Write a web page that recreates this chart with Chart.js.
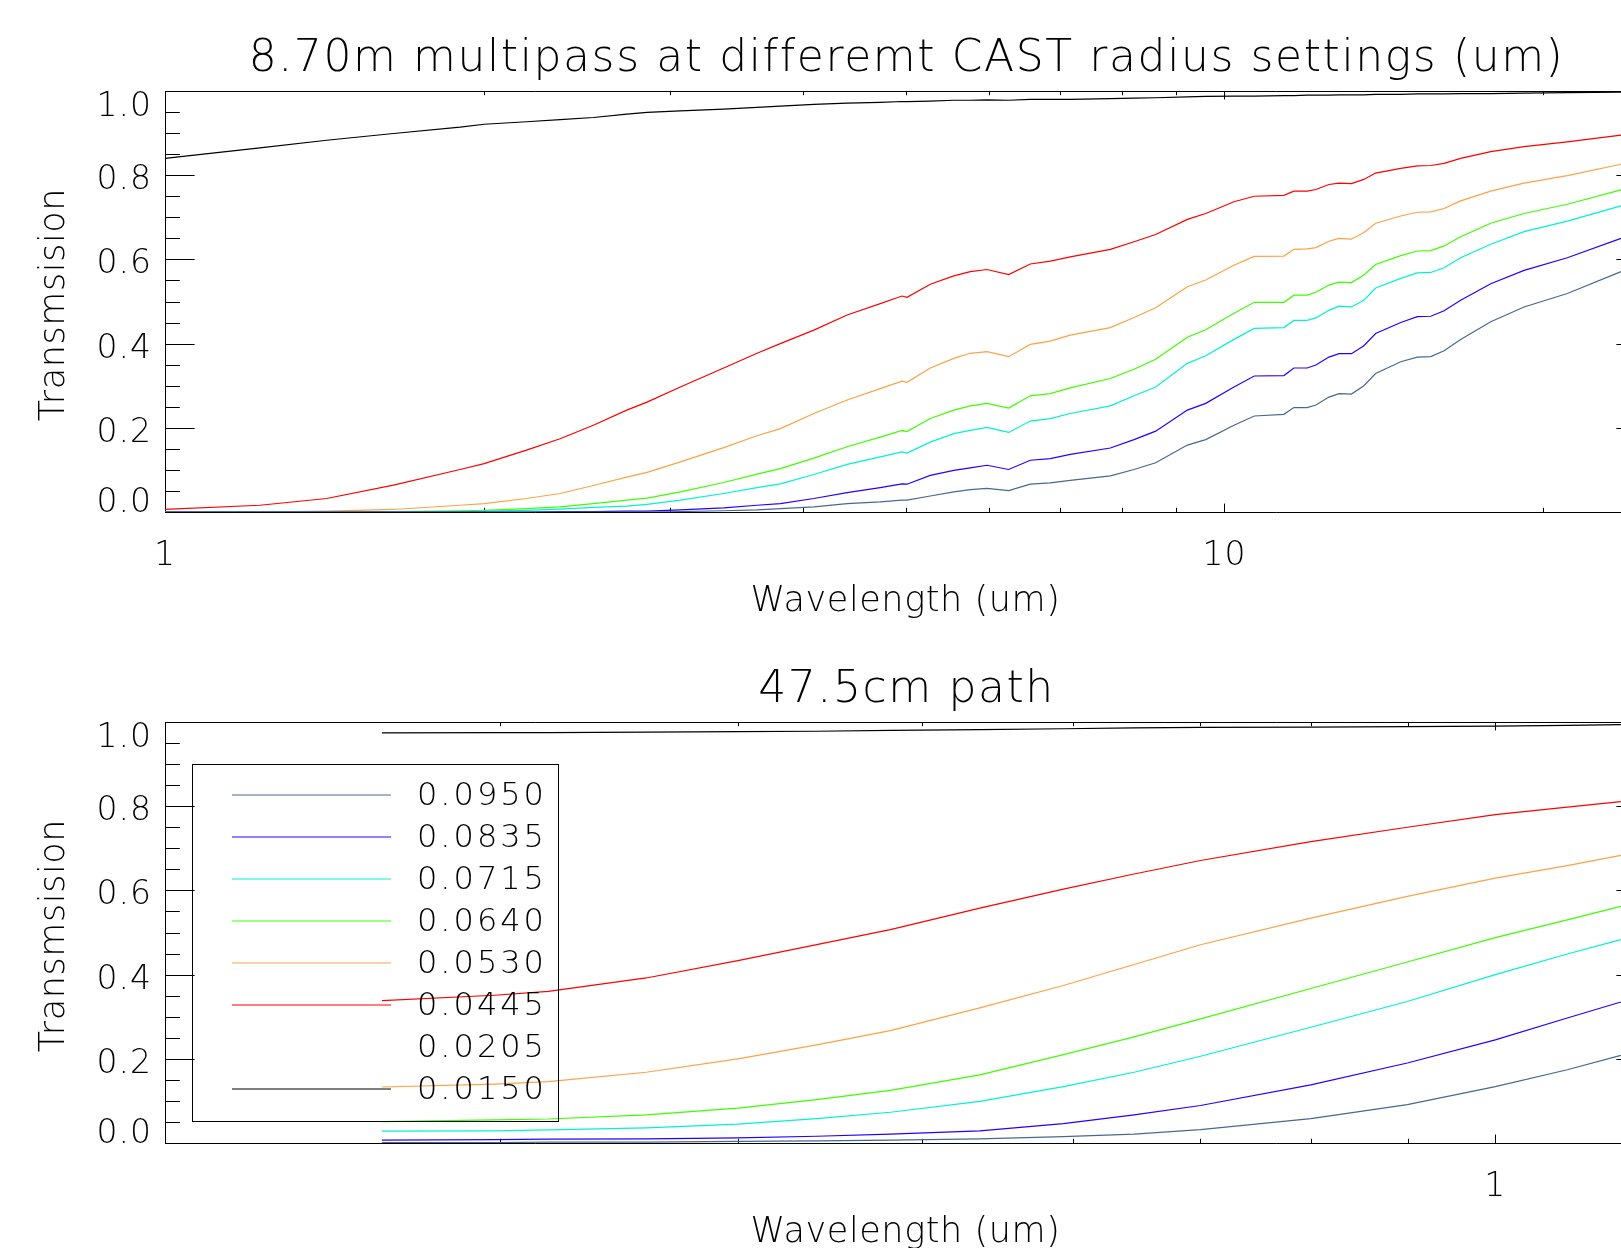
<!DOCTYPE html>
<html>
<head>
<meta charset="utf-8">
<title>Multipass transmission</title>
<script src="https://cdn.jsdelivr.net/npm/chart.js@4.4.0/dist/chart.umd.min.js"></script>
<style>
  html, body { margin: 0; padding: 0; background: #fff; overflow: hidden; }
  canvas { display: block; }
</style>
</head>
<body>
<canvas id="topChart" width="1700" height="620"></canvas>
<canvas id="bottomChart" width="1700" height="628"></canvas>
<script>
// CAST radius settings, in legend order, with their line colours
const radiusLabels = ['0.0950', '0.0835', '0.0715', '0.0640', '0.0530', '0.0445', '0.0205', '0.0150'];
const radiusColors = ['#47698f', '#2400ff', '#00f2d2', '#3cff00', '#ffa245', '#ff0000', '#ffffff', '#000000'];

// 8.70m multipass (top panel), wavelength in um
const topWavelength = [1.000, 1.229, 1.421, 1.643, 1.899, 2.001, 2.194, 2.360, 2.537, 2.728,
    2.851, 3.065, 3.368, 3.621, 3.809, 4.097, 4.404, 4.733, 4.962, 5.016,
    5.277, 5.553, 5.757, 5.969, 6.257, 6.558, 6.849, 7.153, 7.805, 8.216,
    8.612, 9.226, 9.602, 10.21, 10.67, 11.38, 11.63, 11.97, 12.20, 12.55,
    12.83, 13.18, 13.54, 13.89, 14.67, 15.21, 15.66, 16.12, 16.71, 17.84,
    19.18, 21.07, 23.68];
const top0950 = [0, 0, 0, 0, 0, 0, 0, 0, 0, 0,
    0, 0.001, 0.003, 0.005, 0.008, 0.012, 0.020, 0.024, 0.028, 0.028,
    0.038, 0.048, 0.053, 0.056, 0.051, 0.066, 0.069, 0.075, 0.086, 0.101,
    0.117, 0.159, 0.172, 0.206, 0.228, 0.232, 0.248, 0.248, 0.254, 0.273,
    0.281, 0.280, 0.300, 0.329, 0.357, 0.368, 0.369, 0.383, 0.410, 0.452,
    0.487, 0.519, 0.571];
const top0835 = [0, 0, 0, 0, 0, 0, 0, 0.001, 0.001, 0.002,
    0.002, 0.005, 0.010, 0.016, 0.020, 0.032, 0.046, 0.058, 0.067, 0.066,
    0.087, 0.099, 0.105, 0.111, 0.101, 0.123, 0.127, 0.137, 0.152, 0.172,
    0.192, 0.242, 0.258, 0.297, 0.323, 0.324, 0.342, 0.342, 0.349, 0.368,
    0.376, 0.376, 0.395, 0.424, 0.450, 0.464, 0.465, 0.478, 0.503, 0.542,
    0.574, 0.604, 0.650];
const top0715 = [0, 0, 0, 0, 0.001, 0.002, 0.004, 0.007, 0.011, 0.014,
    0.018, 0.028, 0.044, 0.058, 0.067, 0.089, 0.113, 0.131, 0.143, 0.140,
    0.166, 0.186, 0.194, 0.201, 0.189, 0.216, 0.222, 0.234, 0.252, 0.276,
    0.297, 0.353, 0.371, 0.410, 0.436, 0.438, 0.455, 0.455, 0.461, 0.479,
    0.489, 0.487, 0.503, 0.532, 0.555, 0.568, 0.569, 0.580, 0.604, 0.636,
    0.666, 0.691, 0.727];
const top0640 = [0, 0, 0, 0.001, 0.003, 0.004, 0.008, 0.012, 0.020, 0.028,
    0.033, 0.048, 0.070, 0.090, 0.103, 0.128, 0.155, 0.178, 0.194, 0.191,
    0.222, 0.242, 0.252, 0.258, 0.247, 0.276, 0.281, 0.295, 0.317, 0.339,
    0.363, 0.415, 0.433, 0.472, 0.498, 0.498, 0.515, 0.515, 0.522, 0.539,
    0.546, 0.545, 0.563, 0.588, 0.609, 0.620, 0.621, 0.632, 0.654, 0.686,
    0.709, 0.731, 0.765];
const top0530 = [0, 0, 0.002, 0.006, 0.016, 0.020, 0.032, 0.044, 0.063, 0.083,
    0.094, 0.119, 0.153, 0.181, 0.198, 0.234, 0.266, 0.293, 0.311, 0.308,
    0.342, 0.365, 0.377, 0.381, 0.369, 0.398, 0.406, 0.420, 0.438, 0.462,
    0.485, 0.535, 0.551, 0.586, 0.607, 0.608, 0.624, 0.625, 0.628, 0.643,
    0.650, 0.648, 0.664, 0.686, 0.703, 0.712, 0.713, 0.721, 0.739, 0.762,
    0.781, 0.799, 0.826];
const top0445 = [0.006, 0.016, 0.032, 0.064, 0.101, 0.115, 0.147, 0.174, 0.206, 0.242,
    0.261, 0.297, 0.342, 0.377, 0.400, 0.432, 0.468, 0.495, 0.513, 0.510,
    0.541, 0.561, 0.571, 0.576, 0.564, 0.589, 0.596, 0.606, 0.624, 0.642,
    0.659, 0.695, 0.709, 0.737, 0.750, 0.752, 0.762, 0.762, 0.766, 0.778,
    0.781, 0.780, 0.790, 0.805, 0.816, 0.822, 0.823, 0.828, 0.840, 0.856,
    0.868, 0.879, 0.895];
const top0205 = [];
const top0150 = [0.840, 0.865, 0.883, 0.899, 0.914, 0.921, 0.927, 0.932, 0.937, 0.945,
    0.949, 0.953, 0.957, 0.961, 0.964, 0.968, 0.971, 0.973, 0.975, 0.975,
    0.976, 0.978, 0.978, 0.979, 0.978, 0.980, 0.980, 0.980, 0.982, 0.983,
    0.984, 0.986, 0.987, 0.988, 0.988, 0.989, 0.989, 0.990, 0.990, 0.990,
    0.991, 0.991, 0.991, 0.992, 0.992, 0.993, 0.993, 0.993, 0.994, 0.994,
    0.995, 0.996, 0.997];

// 47.5cm path (bottom panel)
const bottomWavelength = [0.260, 0.298, 0.318, 0.358, 0.400, 0.440, 0.481, 0.536,
    0.593, 0.646, 0.700, 0.800, 0.899, 1.000, 1.091, 1.164];
const bottom0950 = [0.001, 0.001, 0.002, 0.002, 0.004, 0.005, 0.007, 0.010, 0.015, 0.021, 0.032, 0.058, 0.091, 0.134, 0.174, 0.208];
const bottom0835 = [0.007, 0.008, 0.009, 0.010, 0.012, 0.016, 0.021, 0.029, 0.046, 0.067, 0.089, 0.138, 0.190, 0.245, 0.297, 0.335];
const bottom0715 = [0.028, 0.029, 0.031, 0.036, 0.045, 0.058, 0.073, 0.099, 0.134, 0.168, 0.206, 0.275, 0.336, 0.400, 0.449, 0.483];
const bottom0640 = [0.051, 0.055, 0.057, 0.067, 0.083, 0.103, 0.125, 0.162, 0.210, 0.252, 0.295, 0.367, 0.430, 0.488, 0.530, 0.562];
const bottom0530 = [0.133, 0.140, 0.146, 0.168, 0.200, 0.233, 0.267, 0.321, 0.374, 0.424, 0.471, 0.534, 0.586, 0.629, 0.659, 0.683];
const bottom0445 = [0.338, 0.351, 0.360, 0.392, 0.433, 0.471, 0.507, 0.558, 0.603, 0.639, 0.671, 0.716, 0.750, 0.780, 0.798, 0.811];
const bottom0205 = [];
const bottom0150 = [0.974, 0.975, 0.975, 0.976, 0.977, 0.978, 0.980, 0.982, 0.984, 0.986, 0.987, 0.988, 0.989, 0.990, 0.992, 0.994];

const yTickLabels = ['0.0', '0.2', '0.4', '0.6', '0.8', '1.0'];

const FONT = "'DejaVu Sans', sans-serif";
const WEIGHT = 200;

/**
 * Builds one line dataset per radius setting.
 */
function buildDatasets(wavelength, series) {
    return radiusLabels.map((label, i) => ({
        label: label,
        data: series[i].map((t, k) => ({ x: wavelength[k], y: t })),
        borderColor: radiusColors[i],
        borderWidth: 1.2,
        pointRadius: 0,
        tension: 0,
        fill: false
    }));
}

function setSpacing(ctx, px) {
    if ('letterSpacing' in ctx) ctx.letterSpacing = px + 'px';
}

// IDL style box axes: inward ticks on all four sides, labels, titles, legend
const idlAxes = {
    id: 'idlAxes',
    beforeDatasetsDraw(chart) {
        const { ctx, chartArea: a, scales: { x, y } } = chart;
        const yLen = 0.02 * (a.right - a.left);
        const xLen = 0.02 * (a.bottom - a.top);
        ctx.save();
        ctx.strokeStyle = '#000';
        ctx.lineWidth = 1;
        ctx.beginPath();
        ctx.rect(Math.round(a.left) + 0.5, Math.round(a.top) + 0.5, Math.round(a.right - a.left), Math.round(a.bottom - a.top));
        for (let i = 0; i <= 20; i++) {
            const py = Math.round(y.getPixelForValue(i * 0.05)) + 0.5;
            const len = i % 4 === 0 ? yLen : yLen / 2;
            ctx.moveTo(a.left, py); ctx.lineTo(a.left + len, py);
            ctx.moveTo(a.right, py); ctx.lineTo(a.right - len, py);
        }
        const p0 = Math.floor(Math.log10(x.min)), p1 = Math.ceil(Math.log10(x.max));
        for (let p = p0; p <= p1; p++) {
            for (let m = 1; m <= 9; m++) {
                const v = m * Math.pow(10, p);
                if (v < x.min * 0.999 || v > x.max * 1.001) continue;
                const px = Math.round(x.getPixelForValue(v)) + 0.5;
                const len = m === 1 ? xLen : xLen / 2;
                ctx.moveTo(px, a.bottom); ctx.lineTo(px, a.bottom - len);
                ctx.moveTo(px, a.top); ctx.lineTo(px, a.top + len);
            }
        }
        ctx.stroke();
        ctx.restore();
    },
    afterDraw(chart, args, opts) {
        const { ctx, chartArea: a, scales: { x, y } } = chart;
        const cx = (a.left + a.right) / 2;
        ctx.save();
        ctx.fillStyle = '#000';
        ctx.textBaseline = 'alphabetic';

        ctx.font = WEIGHT + ' 44px ' + FONT;
        ctx.textAlign = 'center';
        setSpacing(ctx, 1.6);
        ctx.fillText(opts.title, cx + 1, a.top - 20);

        ctx.font = WEIGHT + ' 33px ' + FONT;
        ctx.textAlign = 'right';
        setSpacing(ctx, 1);
        yTickLabels.forEach((label, i) => {
            const ty = y.getPixelForValue(parseFloat(label));
            const shift = i === 0 ? 0 : (i === yTickLabels.length - 1 ? 25 : 14);
            ctx.fillText(label, a.left - 13, ty + shift);
        });
        ctx.textAlign = 'center';
        opts.xTicks.forEach(v => {
            ctx.fillText(String(v), x.getPixelForValue(v), a.bottom + 53);
        });

        ctx.font = WEIGHT + ' 35px ' + FONT;
        setSpacing(ctx, 0.6);
        ctx.fillText('Wavelength (um)', cx, a.bottom + 99);
        ctx.save();
        ctx.translate(64, (a.top + a.bottom) / 2 + 3);
        ctx.rotate(-Math.PI / 2);
        ctx.fillText('Transmsision', 0, 0);
        ctx.restore();

        if (opts.legend) {
            const bx = a.left + 27, by = a.top + 42;
            ctx.strokeStyle = '#000';
            ctx.lineWidth = 1;
            ctx.strokeRect(Math.round(bx) + 0.5, Math.round(by) + 0.5, 366, 357);
            ctx.font = WEIGHT + ' 32px ' + FONT;
            ctx.textAlign = 'left';
            setSpacing(ctx, 3);
            chart.data.datasets.forEach((ds, i) => {
                const rowY = Math.round(by + 31 + i * 42);
                ctx.strokeStyle = ds.borderColor;
                ctx.beginPath();
                ctx.moveTo(bx + 40, rowY);
                ctx.lineTo(bx + 199, rowY);
                ctx.stroke();
                ctx.fillText(ds.label, bx + 225, rowY + 10);
            });
        }
        ctx.restore();
    }
};

function renderPanel(canvasId, wavelength, series, xMin, xMax, padding, panelOpts) {
    return new Chart(document.getElementById(canvasId), {
        type: 'line',
        data: { datasets: buildDatasets(wavelength, series) },
        options: {
            responsive: false,
            animation: false,
            devicePixelRatio: 1,
            events: [],
            layout: { padding: padding },
            plugins: {
                legend: { display: false },
                tooltip: { enabled: false },
                idlAxes: panelOpts
            },
            scales: {
                x: { type: 'logarithmic', min: xMin, max: xMax, display: false },
                y: { type: 'linear', min: 0, max: 1, display: false }
            }
        },
        plugins: [idlAxes]
    });
}

renderPanel('topChart', topWavelength,
    [top0950, top0835, top0715, top0640, top0530, top0445, top0205, top0150],
    1, 25, { left: 165, top: 91, right: 54, bottom: 108 },
    { title: '8.70m multipass at differemt CAST radius settings (um)', xTicks: [1, 10], legend: false });

renderPanel('bottomChart', bottomWavelength,
    [bottom0950, bottom0835, bottom0715, bottom0640, bottom0530, bottom0445, bottom0205, bottom0150],
    0.2, 1.2, { left: 165, top: 102, right: 54, bottom: 105 },
    { title: '47.5cm path', xTicks: [1], legend: true });
</script>
</body>
</html>
